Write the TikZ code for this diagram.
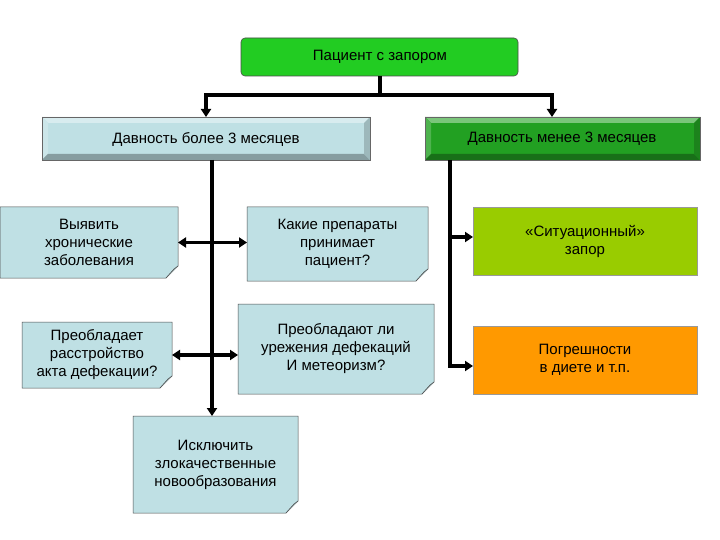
\documentclass[tikz,border=0pt]{standalone}
\usepackage{fontspec}
\setmainfont{Liberation Sans}
\usetikzlibrary{arrows.meta,calc}
\definecolor{lblue}{HTML}{BFE0E4}
\definecolor{tgreen}{HTML}{22CC22}
\definecolor{dgreen}{HTML}{22A022}
\definecolor{lime}{HTML}{99CC00}
\definecolor{orng}{HTML}{FF9900}
\tikzset{
 txt/.style={font=\fontsize{15}{18}\selectfont, align=center},
 conn/.style={line width=3.5pt, -{Triangle[length=8pt,width=10pt]}},
 dconn/.style={line width=3.5pt, {Triangle[length=8pt,width=10pt]}-{Triangle[length=8pt,width=10pt]}},
 plain/.style={line width=3.5pt},
}
\newcommand{\notebox}[6]{% name, x1,y1,x2,y2, text
 \fill[lblue,draw=black!70,line width=0.5pt] (#2,#3) -- (#4,#3) -- (#4,#5-12) -- (#4-12,#5) -- (#2,#5) -- cycle;
 \draw[black!70,line width=0.5pt,fill=lblue!70!gray] (#4,#5-12) -- (#4-4,#5-9) -- (#4-12,#5) ;
 \node[txt,inner sep=0] (#1) at ({(#2+#4)/2},{(#3+#5)/2}) {#6};
 \coordinate (#1w) at (#2,{(#3+#5)/2});
 \coordinate (#1e) at (#4,{(#3+#5)/2});
}
\newcommand{\bevelbox}[6]{% name,x1,y1,x2,y2,color
 \fill[#6] (#2,#3) rectangle (#4,#5);
 \fill[#6!60!white] (#2,#3) -- (#4,#3) -- (#4-6,#3+6) -- (#2+6,#3+6) -- cycle;
 \fill[#6!80!white] (#2,#3) -- (#2+6,#3+6) -- (#2+6,#5-6) -- (#2,#5) -- cycle;
 \fill[#6!70!black] (#2,#5) -- (#4,#5) -- (#4-6,#5-6) -- (#2+6,#5-6) -- cycle;
 \fill[#6!82!black] (#4,#3) -- (#4-6,#3+6) -- (#4-6,#5-6) -- (#4,#5) -- cycle;
 \draw[black!60,line width=0.5pt] (#2,#3) rectangle (#4,#5);
 \coordinate (#1) at ({(#2+#4)/2},{(#3+#5)/2});
}
\begin{document}
\begin{tikzpicture}[x=1pt,y=-1pt]
\useasboundingbox (0,0) rectangle (720,540);
\fill[white] (0,0) rectangle (720,540);
% top
\draw[fill=tgreen,draw=black!70,rounded corners=4pt,line width=0.6pt] (241,38) rectangle (518,76);
\node[txt] (top) at (380,57) {Пациент с запором};
\bevelbox{b1}{42}{117}{370}{160}{lblue}
\node[txt] (b1t) at (206,139) {Давность более 3 месяцев};
\bevelbox{b2}{425}{117}{700}{160}{dgreen}
\node[txt] (b2t) at (562,139) {Давность менее 3 месяцев};
% notes
\notebox{n1}{0}{207}{178}{278}{Выявить\\хронические\\заболевания}
\notebox{n2}{247}{207}{428}{281}{Какие препараты\\принимает\\пациент?}
\notebox{n3}{22}{322}{172}{388}{Преобладает\\расстройство\\акта дефекации?}
\notebox{n4}{238}{304}{434}{394}{Преобладают ли\\урежения дефекаций\\И метеоризм?}
\notebox{n5}{133}{416}{298}{513}{Исключить\\злокачественные\\новообразования}
\coordinate (n5n) at (212,416);
% right
\draw[fill=lime,draw=black!40,line width=0.5pt] (473,207) rectangle (697,275);
\node[txt] (r1) at (585,241) {«Ситуационный»\\запор};
\draw[fill=orng,draw=black!40,line width=0.5pt] (473,326) rectangle (697,394);
\node[txt] (r2) at (585,360) {Погрешности\\в диете и т.п.};
\coordinate (r1w) at (473,237);
\coordinate (r2w) at (473,366);
% connectors
\coordinate (j) at (380,95);
\draw[plain] (380,76) -- (j);
\draw[conn] (j) -| (206,117);
\draw[conn] (j) -| (552,117);
\draw[conn] (212,160) -- (n5n);
\draw[dconn] (n1e) -- (n2w |- n1e);
\draw[dconn] (n3e) -- (n4w |- n3e);
\draw[conn] (450,160) |- (r2w);
\draw[conn] (450,237) -- (r1w);
\end{tikzpicture}
\end{document}
